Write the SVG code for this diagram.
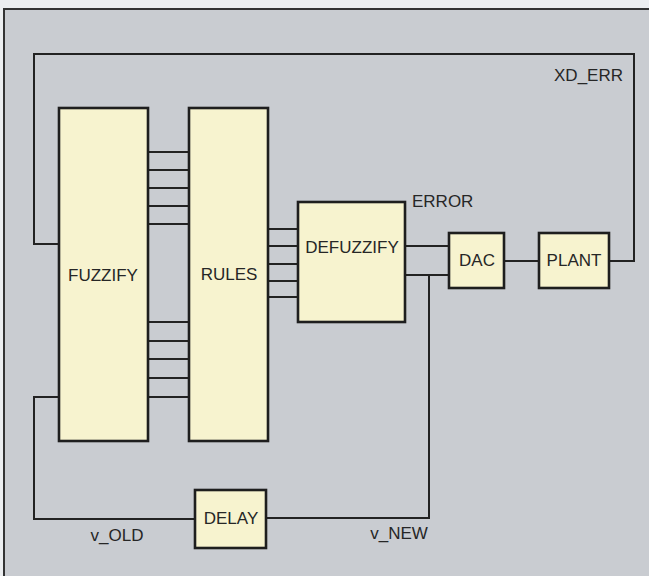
<svg xmlns="http://www.w3.org/2000/svg" width="649" height="576" viewBox="0 0 649 576">
<style>
.box{fill:#f7f3cf;stroke:#1e1e1e;stroke-width:2.6}
.w{fill:none;stroke:#222;stroke-width:2}
text{font-family:"Liberation Sans",Arial,sans-serif;font-size:17px;fill:#262626}
.c{text-anchor:middle}
</style>
<rect x="0" y="0" width="649" height="576" fill="#eceef0"/>
<rect x="4" y="9" width="645" height="567" fill="#c9ccd1"/>
<path d="M4,576 V9 H649" fill="none" stroke="#333" stroke-width="2"/>
<g id="connectors" class="w">
<polyline points="609,261 634,261 634,54 34,54 34,244 59,244"/>
<line x1="504" y1="261" x2="539" y2="261"/>
<line x1="405" y1="246" x2="449" y2="246"/>
<line x1="405" y1="275" x2="449" y2="275"/>
<polyline points="429,275 429,518 266,518"/>
<polyline points="195,519 34,519 34,397 59,397"/>
<path d="M148,152H189M148,170H189M148,188H189M148,206H189M148,224H189M148,322H189M148,341H189M148,359H189M148,378H189M148,397H189"/>
<path d="M268,229H298M268,246H298M268,264H298M268,281H298M268,297H298"/>
</g>
<g id="fuzzify"><rect class="box" x="59" y="108" width="89" height="333"/><text class="c" x="103" y="281">FUZZIFY</text></g>
<g id="rules"><rect class="box" x="189" y="108" width="79" height="333"/><text class="c" x="229" y="280">RULES</text></g>
<g id="defuzzify"><rect class="box" x="298" y="202" width="107" height="120"/><text class="c" x="352" y="253">DEFUZZIFY</text></g>
<g id="dac"><rect class="box" x="449" y="233" width="55" height="55"/><text class="c" x="477" y="266">DAC</text></g>
<g id="plant"><rect class="box" x="539" y="233" width="70" height="55"/><text class="c" x="574" y="266">PLANT</text></g>
<g id="delay"><rect class="box" x="195" y="490" width="71" height="58"/><text class="c" x="231" y="524">DELAY</text></g>
<g id="labels">
<text x="412" y="207">ERROR</text>
<text x="623" y="81" text-anchor="end">XD_ERR</text>
<text class="c" x="117" y="541">v_OLD</text>
<text class="c" x="399" y="539">v_NEW</text>
</g>
</svg>
